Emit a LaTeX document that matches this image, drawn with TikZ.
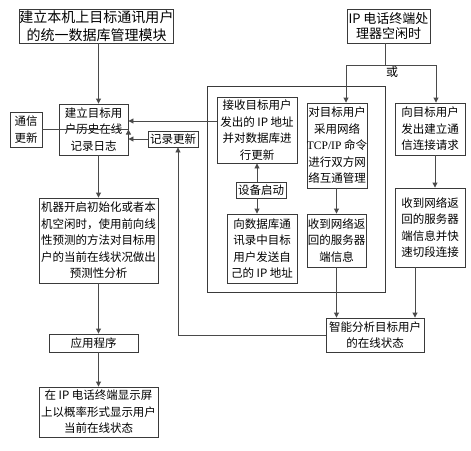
\documentclass[tikz,border=0pt]{standalone}
\usepackage{fontspec}
\newfontfamily\cjk{Noto Sans CJK SC}
\newfontfamily\latn{Liberation Serif}
\usetikzlibrary{arrows.meta,positioning}
\definecolor{ln}{HTML}{4A4A4A}
\definecolor{bd}{HTML}{3A3A3A}
\tikzset{
  box/.style={draw=bd,line width=0.9pt,rectangle,inner sep=0pt,align=center,
    font=\cjk\fontsize{11.5}{16.5}\selectfont,text=black},
  arr/.style={draw=ln,line width=0.9pt,-{Triangle[length=5pt,width=5pt]}},
  plain/.style={draw=ln,line width=0.9pt},
}
\newcommand{\bx}[6]{\node[box,minimum width=#3pt,minimum height=#4pt,#5] (#1) at (#2) {#6};}
\begin{document}
\begin{tikzpicture}[x=1pt,y=-1pt]
\useasboundingbox (0,0) rectangle (471,450);
% big frame
\draw[bd,line width=0.9pt] (207,86) rectangle (385,292);
% nodes
\bx{b1}{96.5,26}{153}{34}{font=\cjk\fontsize{14}{18}\selectfont}{建立本机上目标通讯用户\\的统一数据库管理模块}
\bx{ip}{388.5,26}{83}{34}{font=\cjk\fontsize{13}{15}\selectfont}{IP 电话终端处\\理器空闲时}
\bx{tx}{26,129.5}{32}{35}{}{通信\\更新}
\bx{b2}{93.5,129.5}{69}{51}{}{建立目标用\\户历史在线\\记录日志}
\bx{jl}{173,139}{50}{16}{}{记录更新}
\bx{js}{257,130}{80}{66}{}{接收目标用户\\发出的 IP 地址\\并对数据库进\\行更新}
\bx{dm}{337,145.5}{60}{85}{}{对目标用户\\采用网络\\{\latn TCP/IP} 命令\\进行双方网\\络互通管理}
\bx{xr}{430,129}{70}{52}{}{向目标用户\\发出建立通\\信连接请求}
\bx{sb}{261,190}{50}{16}{}{设备启动}
\bx{xs}{262,248.5}{70}{69}{}{向数据库通\\讯录中目标\\用户发送自\\己的 IP 地址}
\bx{sm}{336.5,240.5}{59}{53}{}{收到网络返\\回的服务器\\端信息}
\bx{sr}{430,227.5}{70}{79}{}{收到网络返\\回的服务器\\端信息并快\\速切段连接}
\bx{zn}{375,335}{98}{34}{}{智能分析目标用户\\的在线状态}
\bx{jq}{98.5,240.5}{119}{85}{}{机器开启初始化或者本\\机空闲时，使用前向线\\性预测的方法对目标用\\户的当前在线状况做出\\预测性分析}
\bx{yy}{93.5,343}{89}{18}{}{应用程序}
\bx{zd}{98.5,412}{119}{50}{}{在 IP 电话终端显示屏\\上以概率形式显示用户\\当前在线状态}
% label
\node[font=\cjk\fontsize{12}{14}\selectfont,inner sep=0pt] (huo) at (392,72) {或};
% left column
\draw[arr] (b1.south -| jq.north) -- (b2.north -| jq.north);
\draw[arr] (b2.south -| jq.north) -- (jq.north);
\draw[arr] (jq.south) -- (yy.north -| jq.south);
\draw[arr] (yy.south -| zd.north) -- (zd.north);
\draw[arr] (tx.east) -- (tx.east -| b2.east) ++(0,0);
\draw[arr] ([yshift=9pt]js.west) -- ([yshift=9pt]js.west -| b2.east);
\draw[arr] (jl.west) -- (jl.west -| b2.east);
\draw[arr] (zn.west) -| ([xshift=5pt]jl.south);
% fork from ip
\coordinate (fork) at (385,65);
\draw[plain] (ip.south -| fork) -- (fork);
\draw[arr] (fork) -| ([xshift=9pt]dm.north);
\draw[arr] (fork) -| ([xshift=6pt]xr.north);
% device start
\draw[arr] (sb.north -| js.south) -- (js.south);
\draw[arr] (sb.south -| js.south) -- (xs.north -| js.south);
% right part
\draw[arr] (dm.south -| sm.north) -- (sm.north);
\draw[arr] ([xshift=5pt]xr.south) -- ([xshift=5pt]xr.south |- sr.north);
\draw[arr] (sm.south) -- (sm.south |- zn.north);
\draw[arr] ([xshift=-15pt]sr.south) -- ([xshift=-15pt]sr.south |- zn.north);
\end{tikzpicture}
\end{document}
